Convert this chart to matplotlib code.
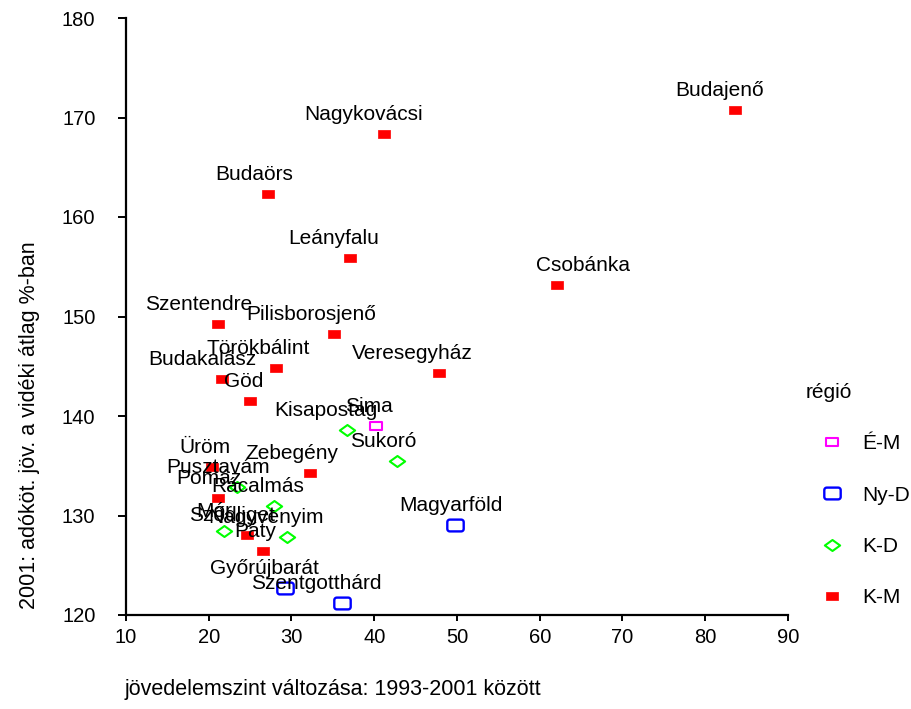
import matplotlib
matplotlib.use('Agg')
import matplotlib.pyplot as plt
import numpy as np
from matplotlib.path import Path

plt.rcParams['font.family'] = ['Liberation Sans', 'DejaVu Sans']

# települések adatai
towns = ['Sima',
         'Magyarföld', 'Győrújbarát', 'Szentgotthárd',
         'Kisapostag', 'Sukoró', 'Pusztavám', 'Rácalmás', 'Mór', 'Nagyvenyim',
         'Budajenő', 'Nagykovácsi', 'Budaörs', 'Leányfalu', 'Csobánka',
         'Szentendre', 'Pilisborosjenő', 'Törökbálint', 'Veresegyház',
         'Budakalász', 'Göd', 'Zebegény', 'Üröm', 'Pomáz', 'Sződliget', 'Páty']
change = [40.2,
          49.8, 29.2, 36.1,
          36.7, 42.7, 23.4, 27.9, 21.8, 29.5,
          83.6, 41.2, 27.2, 37.1, 62.1,
          21.1, 35.1, 28.1, 47.8,
          21.6, 25.0, 32.2, 20.4, 21.1, 24.6, 26.6]
income = [139.0,
          129.0, 122.7, 121.2,
          138.6, 135.5, 132.9, 131.0, 128.4, 127.8,
          170.8, 168.3, 162.3, 155.9, 153.2,
          149.2, 148.2, 144.8, 144.3,
          143.7, 141.5, 134.3, 134.9, 131.8, 128.0, 126.4]
region = ['É-M',
          'Ny-D', 'Ny-D', 'Ny-D',
          'K-D', 'K-D', 'K-D', 'K-D', 'K-D', 'K-D',
          'K-M', 'K-M', 'K-M', 'K-M', 'K-M',
          'K-M', 'K-M', 'K-M', 'K-M',
          'K-M', 'K-M', 'K-M', 'K-M', 'K-M', 'K-M', 'K-M']
regions = ['É-M', 'Ny-D', 'K-D', 'K-M']

# címke eltolás vízszintesen (pixel)
label_dx = [-7,
            -4, -20, -26,
            -21, -13, -19, -16, -9, -21,
            -15, -21, -14, -17, 26,
            -19, -23, -18, -27,
            -20, -6, -18, -7, -9, -15, -8]


def rect(w, h):
    return Path([(-w, -h), (w, -h), (w, h), (-w, h), (-w, -h)], closed=True)


def rounded_rect(w, h, r, n=6):
    pts = []
    for cx, cy, a0 in [(w - r, h - r, 0), (-w + r, h - r, 90),
                       (-w + r, -h + r, 180), (w - r, -h + r, 270)]:
        for a in np.linspace(a0, a0 + 90, n):
            pts.append((cx + r * np.cos(np.radians(a)), cy + r * np.sin(np.radians(a))))
    pts.append(pts[0])
    return Path(pts, closed=True)


styles = {
    'É-M': dict(marker=rect(1.0, 0.68), ms=8.0, mfc='none', mec='#ff00ff', mew=1.5),
    'Ny-D': dict(marker=rounded_rect(1.0, 0.72, 0.3), ms=11.8, mfc='none', mec='#0000ff', mew=1.7),
    'K-D': dict(marker=Path([(-1, 0), (0, 0.72), (1, 0), (0, -0.72), (-1, 0)], closed=True),
                ms=11.0, mfc='none', mec='#00ff00', mew=1.5),
    'K-M': dict(marker=rect(1.0, 0.6), ms=8.6, mfc='#ff0000', mec='#ff0000', mew=0.5),
}

fig = plt.figure(figsize=(9.12, 7.09), dpi=100)
ax = fig.add_axes([126 / 912, 1 - 615 / 709, (788 - 126) / 912, (615 - 18) / 709])

change = np.array(change)
income = np.array(income)
region = np.array(region)
for reg in regions:
    m = region == reg
    ax.plot(change[m], income[m], linestyle='none', label=reg, clip_on=False, **styles[reg])

for name, x, y, dx in zip(towns, change, income, label_dx):
    ax.annotate(name, (x, y), xytext=(dx, 14), textcoords='offset pixels',
                ha='center', va='baseline', fontsize=15, zorder=5)

ax.set_xlim(10, 90)
ax.set_ylim(120, 180)
ax.set_xticks(range(10, 91, 10))
ax.set_yticks(range(120, 181, 10))
ax.spines['top'].set_visible(False)
ax.spines['right'].set_visible(False)
ax.spines['left'].set_linewidth(1.6)
ax.spines['bottom'].set_linewidth(1.6)
ax.tick_params(axis='x', direction='out', length=4.5, width=1.4, pad=5, labelsize=14.5)
ax.tick_params(axis='y', direction='out', length=6, width=1.4, pad=16, labelsize=14.5)

fig.text(125 / 912, 1 - 690 / 709, 'jövedelemszint változása: 1993-2001 között',
         ha='left', va='center', fontsize=15.5)
fig.text(30 / 912, 1 - 425 / 709, '2001: adóköt. jöv. a vidéki átlag %-ban',
         ha='center', va='center', rotation=90, fontsize=15.5)

leg = fig.legend(loc='upper left', bbox_to_anchor=(806 / 912, 1 - 383 / 709),
                 frameon=False, title='régió', fontsize=15, title_fontsize=15,
                 alignment='left', handlelength=2.5, handletextpad=0.2,
                 labelspacing=1.55, borderpad=0, borderaxespad=0)

fig.savefig('out.png', dpi=100)
